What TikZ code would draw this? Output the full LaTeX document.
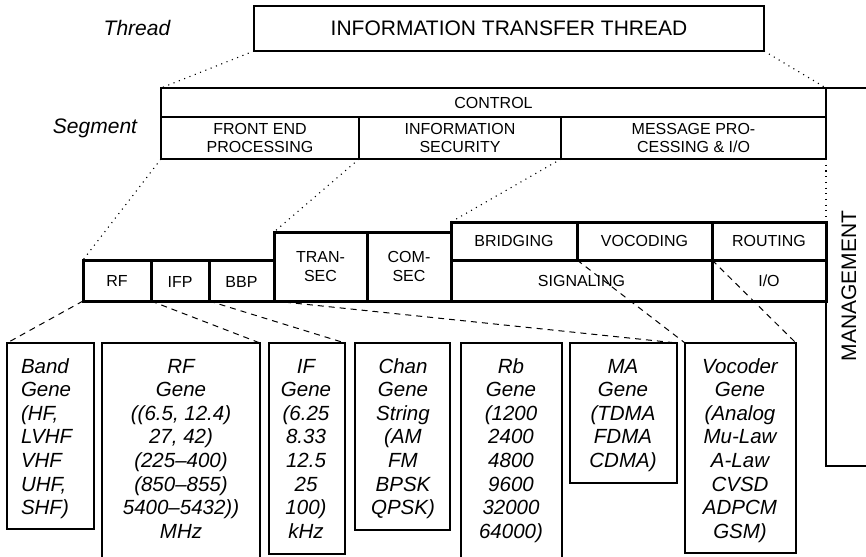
\documentclass[tikz,border=0pt]{standalone}
\usepackage{fontspec}
\setmainfont{Liberation Sans}
\usetikzlibrary{fit}
\tikzset{
  every node/.style={outer sep=0pt},
  boxtext/.style={align=center, inner sep=0pt, font=\fontsize{16}{18.5}\selectfont},
  thinbox/.style={draw, line width=1.2pt, inner sep=0pt},
  thickbox/.style={draw, line width=3pt, inner sep=0pt},
  genebox/.style={draw, line width=1.2pt, inner sep=0pt},
  genetext/.style={font=\fontsize{20.5}{23.6}\selectfont\itshape, align=center, inner sep=0pt, anchor=north},
  sidelabel/.style={font=\fontsize{21}{24}\selectfont\itshape, inner sep=0pt},
  dotline/.style={line width=1.1pt, dash pattern=on 1.1pt off 4.6pt},
  dashline/.style={line width=1pt, dash pattern=on 6pt off 5pt},
  edgeline/.style={line width=1.2pt},
}
\begin{document}
\begin{tikzpicture}[x=1pt,y=-1pt]
\clip (0,0) rectangle (866,556);
% thread
\node[thinbox, fit={(254,6) (764,51)}, label={[boxtext, font=\fontsize{21}{24}\selectfont]center:INFORMATION TRANSFER THREAD}] (thread) {};
\node[sidelabel] (threadlbl) at (137,28) {Thread};
% segment
\node[thinbox, fit={(161,88) (826,117)}, label={[boxtext]center:CONTROL}] (control) {};
\node[thinbox, fit={(161,117) (359,159)}, label={[boxtext]center:FRONT END\\PROCESSING}] (fep) {};
\node[thinbox, fit={(359,117) (561,159)}, label={[boxtext]center:INFORMATION\\SECURITY}] (infosec) {};
\node[thinbox, fit={(561,117) (826,159)}, label={[boxtext]center:MESSAGE PRO-\\CESSING \& I/O}] (msg) {};
\node[sidelabel] (seglbl) at (95,128) {Segment};
% management
\node[inner sep=0pt, fit={(826,88) (900,466)}] (mgmt) {};
\node[rotate=90, font=\fontsize{21}{24}\selectfont, inner sep=0pt] (mgmtlbl) at (849,286) {MANAGEMENT};
% row of elements
\node[thickbox, fit={(83,260) (151,301)}, label={[boxtext]center:RF}] (rf) {};
\node[thickbox, fit={(151,260) (209,301)}, label={[boxtext, yshift=-1pt]center:IFP}] (ifp) {};
\node[thickbox, fit={(209,260) (274,301)}, label={[boxtext, yshift=-1pt]center:BBP}] (bbp) {};
\node[thickbox, fit={(274,232) (367,301)}, label={[boxtext]center:TRAN-\\SEC}] (transec) {};
\node[thickbox, fit={(367,232) (451,301)}, label={[boxtext]center:COM-\\SEC}] (comsec) {};
\node[thickbox, fit={(451,222) (577,260)}, label={[boxtext]center:BRIDGING}] (bridging) {};
\node[thickbox, fit={(577,222) (712,260)}, label={[boxtext]center:VOCODING}] (vocoding) {};
\node[thickbox, fit={(712,222) (826,260)}, label={[boxtext]center:ROUTING}] (routing) {};
\node[thickbox, fit={(451,260) (712,301)}, label={[boxtext]center:SIGNALING}] (signaling) {};
\node[thickbox, fit={(712,260) (826,301)}, label={[boxtext]center:I/O}] (io) {};
% management edges
\draw[edgeline] (mgmt.north east) -- (mgmt.north west) -- (msg.north east);
\draw[edgeline] (io.south east) -- (mgmt.south west) -- (mgmt.south east);
% gene boxes
\node[genebox, fit={(7,343) (94,529)}] (band) {};
\node[genebox, fit={(102,343) (260,580)}] (rfgene) {};
\node[genebox, fit={(269,343) (345,554)}] (ifgene) {};
\node[genebox, fit={(355,343) (450,530)}] (chan) {};
\node[genebox, fit={(461,343) (562,580)}] (rb) {};
\node[genebox, fit={(570,343) (677,483)}] (ma) {};
\node[genebox, fit={(685,343) (796,553)}] (vocoder) {};
\node[genetext, align=left, anchor=north west] (bandtxt) at (21,358) {\rule{0pt}{15pt}Band\\Gene\\(HF,\\LVHF\\VHF\\UHF,\\SHF)};
\node[genetext] (rfgenetxt) at (181,358) {\rule{0pt}{15pt}RF\\Gene\\((6.5, 12.4)\\27, 42)\\(225–400)\\(850–855)\\5400–5432))\\MHz};
\node[genetext] (ifgenetxt) at (306,358) {\rule{0pt}{15pt}IF\\Gene\\(6.25\\8.33\\12.5\\25\\100)\\kHz};
\node[genetext] (chantxt) at (403,358) {\rule{0pt}{15pt}Chan\\Gene\\String\\(AM\\FM\\BPSK\\QPSK)};
\node[genetext] (rbtxt) at (511,358) {\rule{0pt}{15pt}Rb\\Gene\\(1200\\2400\\4800\\9600\\32000\\64000)};
\node[genetext] (matxt) at (623,358) {\rule{0pt}{15pt}MA\\Gene\\(TDMA\\FDMA\\CDMA)};
\node[genetext] (vocodertxt) at (740,358) {\rule{0pt}{15pt}Vocoder\\Gene\\(Analog\\Mu-Law\\A-Law\\CVSD\\ADPCM\\GSM)};
% dotted connectors
\draw[dotline] (thread.south west) -- (control.north west);
\draw[dotline] (thread.south east) -- (control.north east);
\draw[dotline] (fep.south west) -- (rf.north west);
\draw[dotline] (infosec.south west) -- (transec.north west);
\draw[dotline] (msg.south west) -- (bridging.north west);
\draw[dotline] (msg.south east) -- (routing.north east);
% dashed connectors
\draw[dashline] (rf.south west) -- (band.north west);
\draw[dashline] (ifp.south west) -- (rfgene.north east);
\draw[dashline] (bbp.south west) -- (ifgene.north east);
\draw[dashline] (transec.south west) -- (ma.north east);
\draw[dashline] (vocoding.south west) -- (vocoder.north west);
\draw[dashline] (vocoding.south east) -- (vocoder.north east);
\end{tikzpicture}
\end{document}
